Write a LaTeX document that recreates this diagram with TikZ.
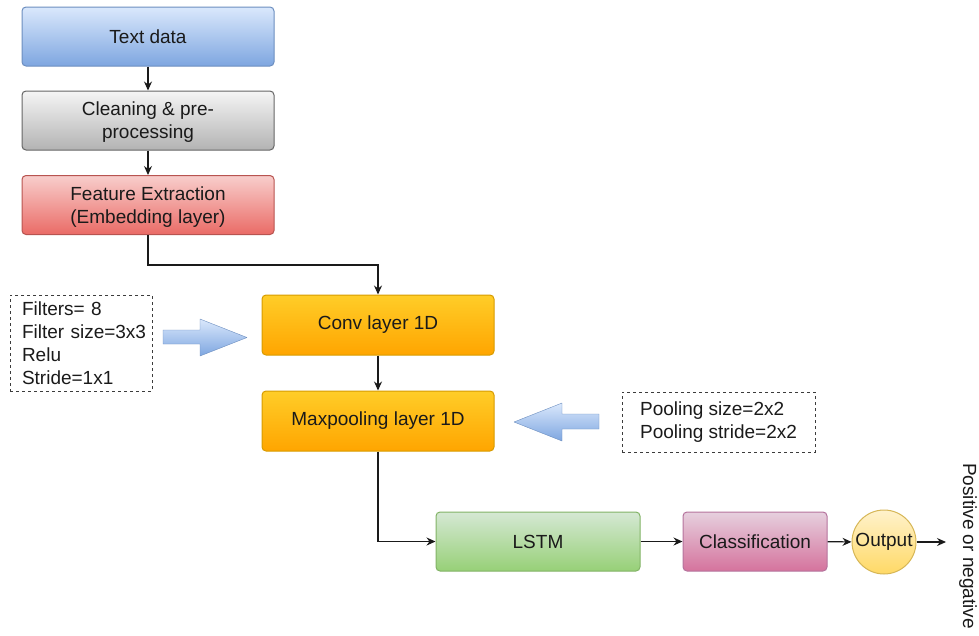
\documentclass[tikz,border=0pt]{standalone}
\usepackage{fontspec}
\setmainfont{Liberation Sans}
\usetikzlibrary{arrows.meta}
\definecolor{sky}{HTML}{DAE8FC}
\definecolor{skydeep}{HTML}{7EA6E0}
\definecolor{skyrim}{HTML}{6C8EBF}
\definecolor{fog}{HTML}{F5F5F5}
\definecolor{fogdeep}{HTML}{B3B3B3}
\definecolor{fogrim}{HTML}{666666}
\definecolor{rose}{HTML}{F8CECC}
\definecolor{rosedeep}{HTML}{EA6B66}
\definecolor{roserim}{HTML}{B85450}
\definecolor{amber}{HTML}{FFCD28}
\definecolor{amberdeep}{HTML}{FFA500}
\definecolor{amberrim}{HTML}{D79B00}
\definecolor{leaf}{HTML}{D5E8D4}
\definecolor{leafdeep}{HTML}{97D077}
\definecolor{leafrim}{HTML}{82B366}
\definecolor{plum}{HTML}{E6D0DE}
\definecolor{plumdeep}{HTML}{D5739D}
\definecolor{plumrim}{HTML}{B5739D}
\definecolor{butter}{HTML}{FFF2CC}
\definecolor{butterdeep}{HTML}{FFD966}
\definecolor{butterrim}{HTML}{D6B656}
\definecolor{ink}{HTML}{1A1A1A}

\begin{document}
\begin{tikzpicture}[x=1pt,y=-1pt,font=\fontsize{19}{23}\selectfont,
        box/.style n args={3}{draw=#3,top color=#1,bottom color=#2,rounded corners=4pt,
          minimum width=252pt,minimum height=59pt,align=center,text=ink,line width=1pt},
        note/.style={draw=ink!85,dash pattern=on 3pt off 3pt,align=left,text=ink,inner sep=2pt},
        fat/.style={draw=skyrim,top color=sky,bottom color=skydeep,line join=round},
        flow/.style={-{Stealth[length=9pt,width=8pt]},line width=1.2pt,ink}]
        \useasboundingbox (0,0) rectangle (979,635);
        \node[box={sky}{skydeep}{skyrim}] (text) at (148,36.5) {Text data};
        \node[box={fog}{fogdeep}{fogrim},text depth=0pt] (clean) at (148,120.5) {Cleaning \& pre-\\processing};
        \node[box={rose}{rosedeep}{roserim},text depth=0pt] (feat) at (148,205) {Feature Extraction\\(Embedding layer)};
        \node[box={amber}{amberdeep}{amberrim},minimum width=232pt,minimum height=60pt] (conv) at (378,325) {Conv layer 1D};
        \node[box={amber}{amberdeep}{amberrim},minimum width=232pt,minimum height=60pt] (maxp) at (378,421) {Maxpooling layer 1D};
        \node[box={leaf}{leafdeep}{leafrim},minimum width=204pt] (lstm) at (538,541.5) {LSTM};
        \node[box={plum}{plumdeep}{plumrim},minimum width=144pt] (cls) at (755,541.5) {Classification};
        \node[box={butter}{butterdeep}{butterrim},circle,minimum size=64pt,inner sep=1pt] (out) at (884,542) {Output};
        \node[rotate=-90,inner sep=0pt,text=ink] (verdict) at (968,546) {Positive or negative};
        \coordinate (res) at (946,542);
        \node[note,minimum width=142pt,minimum height=96pt,text width=118pt] (filt) at (81,343) {Filters= 8\\Filter~size=3x3\\Relu\\Stride=1x1};
        \node[note,minimum width=193pt,minimum height=60pt] (pool) at (718.5,422) {Pooling size=2x2\\Pooling stride=2x2};
        \draw[fat] (163,330) -- (200,330) -- (200,319) -- (247,337.5) -- (200,356) -- (200,344) -- (163,344) -- cycle;
        \draw[fat] (599,414) -- (562,414) -- (562,403) -- (514,422) -- (562,441) -- (562,429) -- (599,429) -- cycle;
        \draw[flow] (text) -- (clean);
        \draw[flow] (clean) -- (feat);
        \draw[flow] (feat.south) -- ++(0,30) -| (conv.north);
        \draw[flow] (conv) -- (maxp);
        \draw[flow] (maxp.south) |- (lstm.west);
        \draw[flow] (lstm) -- (cls);
        \draw[flow] (cls) -- (out);
        \draw[flow] (out) -- (res);
\end{tikzpicture}
\end{document}
